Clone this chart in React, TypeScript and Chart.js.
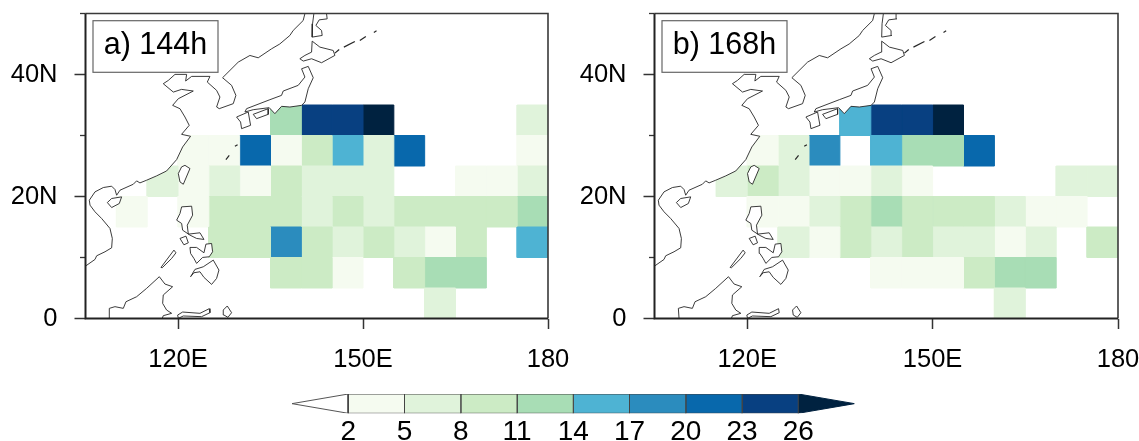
import React, { useEffect, useRef } from "react";
import { Chart, registerables } from "chart.js";

Chart.register(...registerables);

const FONT = "'Liberation Sans', Arial, sans-serif";
const levelBounds = [2, 5, 8, 11, 14, 17, 20, 23, 26];
const levelColors = ["#f5fbf0", "#e0f3db", "#ccebc5", "#a8ddb5", "#4eb3d3", "#2b8cbe", "#0868ac", "#084081", "#002240"];
const xTickValues = [120, 150, 180];
const yMajorValues = [0, 20, 40];
const yMinorValues = [10, 30, 50];
const panelLabels = ["a) 144h", "b) 168h"];
const cellLons = [105, 110, 115, 120, 125, 130, 135, 140, 145, 150, 155, 160, 165, 170, 175];
const cellLats = [0, 5, 10, 15, 20, 25, 30];
const _ = null;

const panelA = [
  [_, _, _, _, _, _, _, _, _, _, _, 6.5, _, _, _],
  [_, _, _, _, _, _, 9.5, 9.5, 3.5, _, 9.5, 12.5, 12.5, _, _],
  [_, _, _, _, 9.5, 9.5, 18.5, 9.5, 6.5, 9.5, 6.5, 3.5, 9.5, _, 15.5],
  [_, 3.5, _, 3.5, 9.5, 9.5, 9.5, 6.5, 9.5, 6.5, 9.5, 9.5, 9.5, 9.5, 12.5],
  [_, _, 6.5, 3.5, 6.5, 3.5, 9.5, 6.5, 6.5, 6.5, _, _, 3.5, 3.5, 6.5],
  [_, _, _, 3.5, 3.5, 21.5, 3.5, 9.5, 15.5, 6.5, 21.5, _, _, _, 3.5],
  [_, _, _, _, _, _, 12.5, 24.5, 24.5, 27.5, _, _, _, _, 6.5],
];
const panelB = [
  [_, _, _, _, _, _, _, _, _, _, _, 6.5, _, _, _],
  [_, _, _, _, _, _, _, 3.5, 3.5, 3.5, 9.5, 12.5, 12.5, _, _],
  [_, _, _, _, 6.5, 3.5, 9.5, 6.5, 9.5, 6.5, 6.5, 3.5, 6.5, _, 9.5],
  [_, _, _, 3.5, 3.5, 6.5, 9.5, 12.5, 9.5, 9.5, 9.5, 6.5, 3.5, 3.5, _],
  [_, _, 6.5, 9.5, 6.5, 3.5, 3.5, 6.5, 3.5, _, _, _, _, 6.5, 6.5],
  [_, _, _, 3.5, 6.5, 18.5, _, 15.5, 12.5, 12.5, 21.5, _, _, _, _],
  [_, _, _, _, _, _, 15.5, 24.5, 24.5, 27.5, _, _, _, _, _],
];

const mainland = [[100,8.65],[105.08,8.65],[106.54,9.68],[106.81,10.28],[108.16,10.94],[109.24,11.59],[109.35,13.12],[108.97,14.76],[107.62,16.39],[106.54,17.49],[105.73,18.58],[105.62,19.39],[106.54,20.76],[107.89,21.47],[109.24,21.69],[109.78,21.14],[110.05,20.21],[110.59,21.03],[112.75,22.01],[113.29,22.56],[113.83,22.23],[114.91,22.67],[116.53,23.38],[118.15,24.19],[119.78,26.05],[120.75,28.12],[122.04,29.87],[120.58,30.19],[121.82,31.67],[121.13,33.03],[120.32,34.39],[119.13,34.94],[120.05,36.03],[122.48,37.29],[120.58,37.56],[119.24,37.12],[117.61,38.49],[118.43,39.03],[119.51,40.02],[121.4,40.02],[121.24,38.93],[122.21,39.69],[125.18,39.69],[124.75,38.76],[126.26,37.4],[126.8,36.31],[126.26,34.67],[126.69,34.4],[128.96,35.22],[129.39,36.58],[128.69,38.22],[127.23,39.47],[129.77,42.03],[131.66,43.12],[133.01,42.74],[135.17,44.21],[136.5,45],[138.14,46.4],[138.68,47.22],[140.3,48.85],[140.57,49.95],[141.1,50.5],[141,56],[100,56]];
const sakhalin = [[142,51],[142.03,49.95],[141.82,48.31],[141.76,46.13],[143.38,46.4],[143.28,47.22],[142.36,48.04],[142.9,48.96],[144.19,49.12],[144.09,49.95],[144,51]];
const hokkaido = [[141.76,45.47],[143.01,44.49],[145.17,43.94],[145.44,43.13],[143.28,41.93],[141.66,42.58],[140.31,42.2],[139.76,42.58],[140.58,43.13],[141.66,43.67]];
const honshu = [[141.12,41.33],[141.93,39.47],[141.12,37.67],[140.58,35.49],[140.04,34.94],[138.14,34.67],[136.79,34.78],[135.71,33.58],[134.79,34.56],[132.2,34.23],[130.85,33.85],[131.12,34.4],[134.9,35.87],[136.79,36.58],[137.06,37.29],[139.49,38.22],[140.58,39.58],[140.04,40.94]];
const kyushu = [[129.5,33.03],[131.39,33.85],[131.77,31.67],[130.31,31.12],[130.15,32.21]];
const shikoku = [[132.2,33.47],[134.63,34.4],[134.63,33.47],[132.74,32.76]];
const taiwan = [[121.13,25.11],[121.94,24.58],[120.86,22.01],[120.32,22.39],[120.05,23.76],[120.58,24.85]];
const hainan = [[108.54,19.01],[109.24,19.67],[110.86,19.94],[110.48,18.85],[109.24,18.19]];
const luzon = [[120.59,18.3],[122.21,18.41],[122.37,16.94],[121.5,15.3],[121.67,13.83],[123.56,14.05],[124.21,12.96],[123.02,13.12],[121.94,13.67],[120.75,14.48],[120.59,15.58],[119.78,16.12],[120.32,17.21]];
const mindoro = [[120.32,13.12],[121.29,13.5],[121.67,12.41],[120.96,12.08]];
const visayas = [[121.94,11.65],[123.02,11.65],[124.21,10.77],[124.53,12.19],[125.45,12.3],[125.61,10.94],[125.07,10.12],[123.99,10.01],[123.02,9.03],[122.58,9.85],[122.04,10.67]];
const mindanao = [[122.04,6.85],[122.75,8.05],[124.1,8.48],[125.72,9.57],[126.64,7.94],[126.26,6.57],[125.45,5.59],[124.21,6.74],[123.56,7.66],[122.58,7.5]];
const palawan = [[117.24,8.37],[119.34,11.21],[119.67,10.77],[118.97,9.85],[117.45,8.32]];
const borneo = [[108.97,0.03],[108.86,1.66],[109.78,1.94],[111.13,1.66],[111.56,2.75],[113.29,3.57],[114.91,4.94],[116.97,6.85],[117.88,5.65],[119.13,5.21],[117.61,3.85],[117.51,2.48],[118.15,1.39],[118.97,0.85],[117.61,0.46],[117.45,0.03],[117.45,-1],[108.97,-1]];
const sulawesi = [[120.05,0.03],[119.94,0.57],[120.75,1.06],[123.56,0.85],[125.07,1.61],[125.18,0.95],[123.83,0.3],[120.86,0.41]];
const halmahera = [[127.34,1.39],[127.99,2.05],[128.69,0.95],[128.1,0.19],[127.45,0.57]];
const landShapes = [mainland, sakhalin, hokkaido, honshu, kyushu, shikoku, taiwan, hainan, luzon, mindoro, visayas, mindanao, palawan, borneo, sulawesi, halmahera];
const smallIslands = [
  [[127.77,26.05],[128.31,26.76]],
  [[129.23,28.23],[129.66,28.5]],
  [[145.44,43.5],[146.14,44.1]],
  [[146.9,44.49],[148.68,45.42]],
  [[149.49,45.58],[150.46,46.24]],
  [[151.76,46.89],[152.19,47.16]],
];

const colorFor = (v: number) => {
  for (let i = 1; i < levelBounds.length; i++) if (v < levelBounds[i]) return levelColors[i - 1];
  return levelColors[levelColors.length - 1];
};
const toPts = (arr: number[][]) => arr.map(([x, y]) => ({ x, y }));
const noOverflow = (s: any) => { s.paddingLeft = s.paddingRight = s.paddingTop = s.paddingBottom = 0; };

const panelFrame = {
  id: "panelFrame",
  afterDatasetsDraw(chart: any, _a: any, opts: any) {
    const { ctx, chartArea: c, scales } = chart;
    ctx.save();
    // minor latitude ticks, placed by the y scale
    ctx.strokeStyle = "#333";
    ctx.lineWidth = 1.3;
    yMinorValues.forEach((v) => {
      const y = scales.y.getPixelForValue(v);
      ctx.beginPath();
      ctx.moveTo(c.left - 5.5, y);
      ctx.lineTo(c.left, y);
      ctx.stroke();
    });
    ctx.strokeStyle = "#3a3a3a";
    ctx.lineWidth = 1.6;
    ctx.beginPath();
    ctx.moveTo(c.left, c.top);
    ctx.lineTo(c.right, c.top);
    ctx.lineTo(c.right, c.bottom);
    ctx.stroke();
    ctx.strokeStyle = "#222";
    ctx.lineWidth = 2;
    ctx.beginPath();
    ctx.moveTo(c.left, c.top);
    ctx.lineTo(c.left, c.bottom);
    ctx.lineTo(c.right, c.bottom);
    ctx.stroke();
    // label box
    ctx.fillStyle = "#fff";
    ctx.strokeStyle = "#666";
    ctx.lineWidth = 1.2;
    ctx.fillRect(93, 20.7, 125, 51.6);
    ctx.strokeRect(93, 20.7, 125, 51.6);
    ctx.fillStyle = "#000";
    ctx.font = `30.5px ${FONT}`;
    ctx.textAlign = "center";
    ctx.textBaseline = "middle";
    ctx.fillText(opts.label, 155.5, 45.5);
    ctx.restore();
  },
};

function makePanel(canvas: HTMLCanvasElement, grid: (number | null)[][], label: string) {
  const coast: any[] = landShapes.map((s) => ({
    data: toPts([...s, s[0]]),
    showLine: true,
    fill: "shape",
    backgroundColor: "#ffffff",
    borderColor: "#262626",
    borderWidth: 0.9,
    pointRadius: 0,
  }));
  const specks: any[] = smallIslands.map((s) => ({
    data: toPts(s),
    showLine: true,
    fill: false,
    borderColor: "#262626",
    borderWidth: 1.2,
    pointRadius: 0,
  }));
  const cells: any[] = [];
  grid.forEach((row, j) =>
    row.forEach((v, i) => {
      if (v === null) return;
      const x0 = cellLons[i], y0 = cellLats[j];
      const c = colorFor(v);
      cells.push({
        data: toPts([[x0, y0], [x0 + 5, y0], [x0 + 5, y0 + 5], [x0, y0 + 5], [x0, y0]]),
        showLine: true,
        fill: "shape",
        backgroundColor: c,
        borderColor: c,
        borderWidth: 1,
        pointRadius: 0,
      });
    })
  );
  return new Chart(canvas, {
    type: "scatter",
    data: { datasets: [...specks, ...coast, ...cells] },
    plugins: [panelFrame],
    options: {
      responsive: false,
      animation: false,
      layout: { padding: { top: 13.5, right: 21, left: 0, bottom: 0 } },
      plugins: { legend: { display: false }, tooltip: { enabled: false }, panelFrame: { label } } as any,
      scales: {
        x: {
          type: "linear",
          min: 105,
          max: 180,
          afterFit: (s: any) => { s.height = 61.5; noOverflow(s); },
          afterBuildTicks: (s: any) => { s.ticks = xTickValues.map((value) => ({ value })); },
          border: { display: false },
          grid: { drawOnChartArea: false, drawTicks: true, tickLength: 10.5, tickWidth: 1.5, tickColor: "#333" },
          ticks: {
            autoSkip: false,
            maxRotation: 0,
            padding: 16,
            color: "#000",
            font: { family: FONT, size: 25.5 },
            callback: (v: any) => (v === 180 ? "180" : `${v}E`),
          },
        },
        y: {
          type: "linear",
          min: 0,
          max: 50,
          afterFit: (s: any) => { s.width = 85.5; noOverflow(s); },
          afterBuildTicks: (s: any) => { s.ticks = yMajorValues.map((value) => ({ value })); },
          border: { display: false },
          grid: { drawOnChartArea: false, drawTicks: true, tickLength: 11, tickWidth: 1.5, tickColor: "#333" },
          ticks: {
            autoSkip: false,
            padding: 17,
            color: "#000",
            font: { family: FONT, size: 25.5 },
            callback: (v: any) => (v === 0 ? "0" : `${v}N`),
          },
        },
      },
    } as any,
  });
}

function makeColorbar(canvas: HTMLCanvasElement) {
  const datasets: any[] = [];
  for (let i = 0; i < levelBounds.length - 1; i++) {
    const a = levelBounds[i], b = levelBounds[i + 1];
    datasets.push({
      data: toPts([[a, 0], [b, 0], [b, 1], [a, 1], [a, 0]]),
      showLine: true, fill: "shape", backgroundColor: levelColors[i], borderColor: "#444", borderWidth: 1, pointRadius: 0,
    });
  }
  const first = levelBounds[0], last = levelBounds[levelBounds.length - 1];
  datasets.push({
    data: toPts([[first, 0], [first - 3, 0.5], [first, 1], [first, 0]]),
    showLine: true, fill: "shape", backgroundColor: "#ffffff", borderColor: "#555", borderWidth: 1, pointRadius: 0,
  });
  datasets.push({
    data: toPts([[last, 0], [last + 3, 0.5], [last, 1], [last, 0]]),
    showLine: true, fill: "shape", backgroundColor: levelColors[8], borderColor: levelColors[8], borderWidth: 1, pointRadius: 0,
  });
  return new Chart(canvas, {
    type: "scatter",
    data: { datasets },
    options: {
      responsive: false,
      animation: false,
      layout: { padding: { top: 14, left: 12, right: 15.5, bottom: 0 } },
      plugins: { legend: { display: false }, tooltip: { enabled: false } },
      scales: {
        x: {
          type: "linear",
          min: first - 3,
          max: last + 3,
          afterFit: (s: any) => { s.height = 27.7; noOverflow(s); },
          afterBuildTicks: (s: any) => { s.ticks = levelBounds.map((value) => ({ value })); },
          border: { display: false },
          grid: { display: false, drawTicks: false },
          ticks: { autoSkip: false, maxRotation: 0, padding: 2, color: "#000", font: { family: FONT, size: 28 } },
        },
        y: { type: "linear", min: 0, max: 1, display: false },
      },
    } as any,
  });
}

export default function App() {
  const a = useRef<HTMLCanvasElement>(null);
  const b = useRef<HTMLCanvasElement>(null);
  const c = useRef<HTMLCanvasElement>(null);
  useEffect(() => {
    const charts = [
      makePanel(a.current!, panelA, panelLabels[0]),
      makePanel(b.current!, panelB, panelLabels[1]),
      makeColorbar(c.current!),
    ];
    return () => charts.forEach((ch) => ch.destroy());
  }, []);
  const abs = (left: number, top: number): React.CSSProperties => ({ position: "absolute", left, top });
  return (
    <div>
      <canvas ref={a} width={569} height={380} style={abs(0, 0)} />
      <canvas ref={b} width={570} height={380} style={abs(569, 0)} />
      <canvas ref={c} width={590} height={61} style={abs(280, 380)} />
    </div>
  );
}
